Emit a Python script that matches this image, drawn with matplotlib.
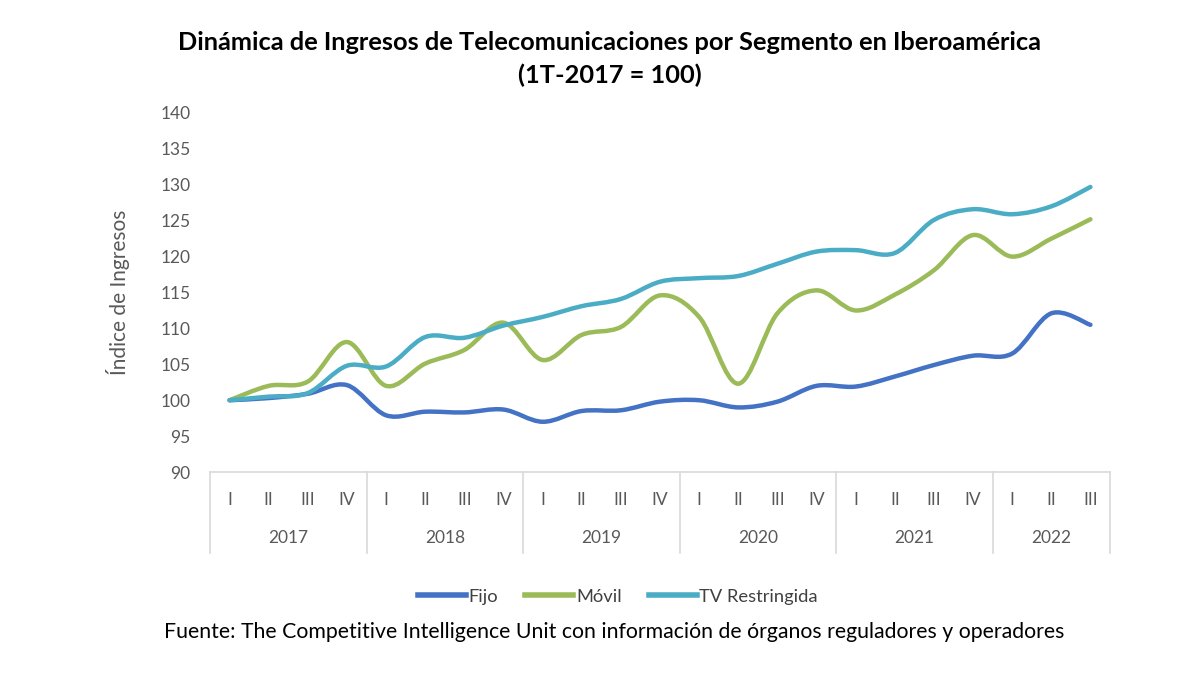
import matplotlib
matplotlib.use("Agg")
import matplotlib.pyplot as plt
from matplotlib.path import Path
from matplotlib.patches import PathPatch
from matplotlib.lines import Line2D
import matplotlib.transforms as mtransforms

plt.rcParams['font.family'] = ['Lato', 'DejaVu Sans']

years = ['2017', '2018', '2019', '2020', '2021', '2022']
quarters_per_year = [4, 4, 4, 4, 4, 3]
quarter_names = ['I', 'II', 'III', 'IV']

fijo = [100.0, 100.3, 100.9, 102.1, 97.9, 98.4, 98.3, 98.7, 97.0, 98.5, 98.6, 99.8,
        100.0, 99.0, 99.8, 102.0, 101.9, 103.3, 104.9, 106.2, 106.5, 112.1, 110.5]
movil = [100.0, 102.0, 102.6, 108.1, 102.0, 105.1, 107.0, 110.8, 105.6, 109.1, 110.2, 114.6,
         111.6, 102.3, 112.1, 115.3, 112.5, 114.7, 118.1, 123.0, 120.0, 122.5, 125.2]
tv = [100.0, 100.5, 101.0, 104.8, 104.7, 108.8, 108.7, 110.4, 111.6, 113.1, 114.1, 116.5,
      117.0, 117.3, 119.0, 120.7, 120.9, 120.5, 125.1, 126.6, 125.9, 127.0, 129.7]

series_names = ['Fijo', 'Móvil', 'TV Restringida']
colors = ['#4472C4', '#9BBB59', '#4BACC6']

gray = '#595959'
sep_color = '#D9D9D9'


def smooth_path(ys):
    # Excel style smoothed line: cubic bezier segments through every point
    pts = list(enumerate(ys))
    n = len(pts)
    verts = [pts[0]]
    codes = [Path.MOVETO]
    for i in range(n - 1):
        p0 = pts[max(i - 1, 0)]
        p1 = pts[i]
        p2 = pts[i + 1]
        p3 = pts[min(i + 2, n - 1)]
        c1 = (p1[0] + (p2[0] - p0[0]) / 6, p1[1] + (p2[1] - p0[1]) / 6)
        c2 = (p2[0] - (p3[0] - p1[0]) / 6, p2[1] - (p3[1] - p1[1]) / 6)
        verts += [c1, c2, p2]
        codes += [Path.CURVE4] * 3
    return Path(verts, codes)


fig = plt.figure(figsize=(12, 6.75), dpi=100)
ax = fig.add_axes([0.175, 0.3007, 0.75, 0.5319])

for ys, col in zip([fijo, movil, tv], colors):
    ax.add_patch(PathPatch(smooth_path(ys), facecolor='none', edgecolor=col,
                           lw=3.2, capstyle='round', joinstyle='round'))

n = len(fijo)
ax.set_xlim(-0.5, n - 0.5)
ax.set_ylim(90, 140)
ax.set_yticks(range(90, 141, 5))
ax.tick_params(axis='y', length=0, labelsize=12.5, labelcolor=gray, pad=14)
ax.set_xticks([])
for s in ['top', 'right', 'left']:
    ax.spines[s].set_visible(False)
ax.spines['bottom'].set_color(sep_color)
ax.spines['bottom'].set_linewidth(1.2)
ax.set_ylabel('Índice de Ingresos', fontsize=15, color=gray, labelpad=22)

# two level category axis
trans = mtransforms.blended_transform_factory(ax.transData, ax.transAxes)
pos = 0
bounds = [-0.5]
for yr, nq in zip(years, quarters_per_year):
    for q in range(nq):
        ax.text(pos + q, -0.078, quarter_names[q], transform=trans, ha='center',
                va='center', fontsize=12.5, color=gray)
    ax.text(pos + (nq - 1) / 2, -0.184, yr, transform=trans, ha='center',
            va='center', fontsize=12.5, color=gray)
    pos += nq
    bounds.append(pos - 0.5)
for b in bounds:
    ax.add_line(Line2D([b, b], [0, -0.226], transform=trans, color=sep_color,
                       lw=1.2, clip_on=False))

fig.text(0.508, 0.937, 'Dinámica de Ingresos de Telecomunicaciones por Segmento en Iberoamérica',
         ha='center', va='center', fontsize=18.3, fontweight='bold')
fig.text(0.508, 0.889, '(1T-2017 = 100)', ha='center', va='center',
         fontsize=18.3, fontweight='bold')

handles = [Line2D([], [], color=c, lw=4) for c in colors]
fig.legend(handles, series_names, loc='center', bbox_to_anchor=(0.515, 0.116),
           ncol=3, frameon=False, fontsize=13.2, handlelength=2.6, handletextpad=0.15,
           columnspacing=1.5, labelcolor='#404040')

fig.text(0.512, 0.063, 'Fuente: The Competitive Intelligence Unit con información de órganos reguladores y operadores',
         ha='center', va='center', fontsize=15.3)

fig.savefig('out.png', dpi=100)
